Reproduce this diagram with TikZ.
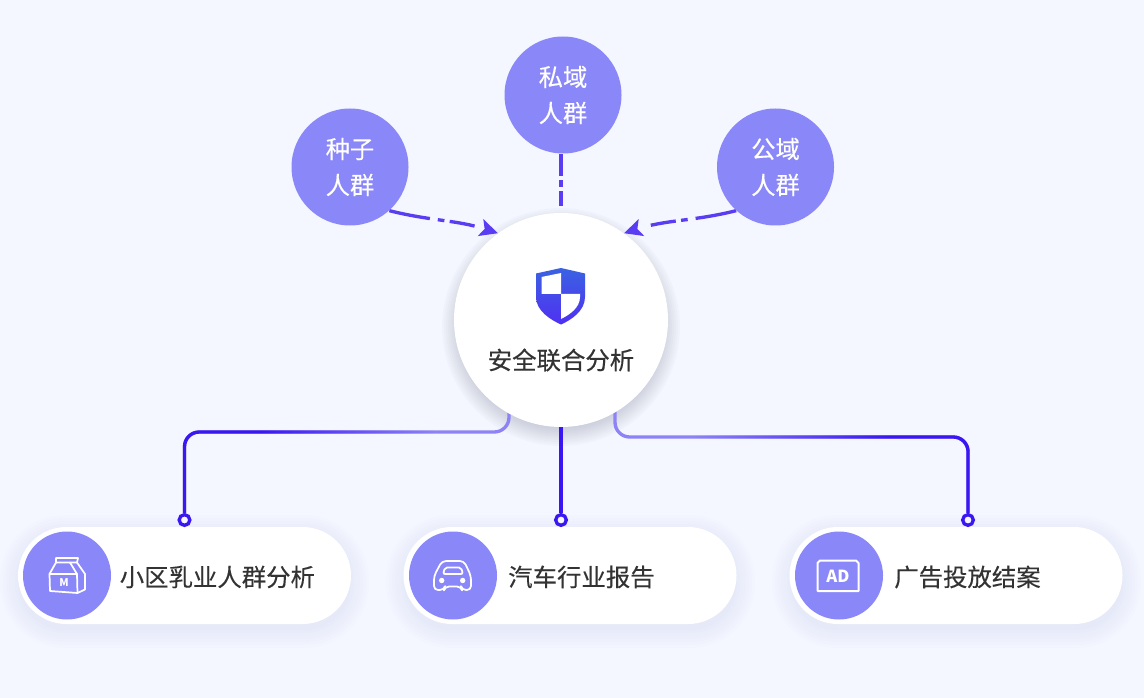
\documentclass[tikz,border=0pt]{standalone}
\usepackage{fontspec}
\setmainfont{Noto Sans CJK SC}
\usetikzlibrary{arrows.meta,backgrounds,fadings,shapes.misc}

\definecolor{pagebg}{HTML}{F4F7FF}
\definecolor{bubble}{HTML}{8A87F8}
\definecolor{linkdark}{HTML}{3A17F2}
\definecolor{linklight}{HTML}{8D82F6}
\definecolor{flowblue}{HTML}{5A3DF3}
\definecolor{textdark}{HTML}{333333}
\definecolor{shadowgray}{HTML}{5F6480}
\definecolor{shieldtop}{HTML}{3A62E2}
\definecolor{shieldlow}{HTML}{5030F2}

\tikzset{
    source/.style={circle, fill=bubble, text=white, minimum size=87.75pt, inner sep=0pt, align=center,
        font=\fontsize{18.2}{27}\selectfont\addfontfeature{FakeBold=0.25}},
    hub/.style={circle, fill=white, minimum size=160.5pt, inner sep=0pt},
    pill/.style={rounded rectangle, fill=white, minimum width=249.75pt, minimum height=72.75pt, inner sep=0pt},
    badge/.style={circle, fill=bubble, minimum size=66pt, inner sep=0pt},
    pin/.style={circle, draw=linkdark, line width=2.5pt, fill=pagebg, minimum size=8pt, inner sep=0pt},
    caption/.style={text=textdark, inner sep=0pt, font=\fontsize{18.3}{22}\selectfont\addfontfeature{FakeBold=0.25}},
    flow/.style={draw=flowblue, line width=2.5pt},
    flowarrow/.style={flow, dash pattern=on 31pt off 6pt on 5pt off 4pt on 19pt off 30pt,
        -{Stealth[length=13.5pt, width=13pt, inset=3pt]}},
    link/.style={draw=linklight, line width=2.5pt, rounded corners=11pt},
    linktop/.style={draw=linkdark, line width=2.5pt, rounded corners=11pt},
    glyph/.style={draw=white, line width=1.3pt, line join=round, line cap=round}
}

\begin{document}
\begin{tikzpicture}[x=0.75pt, y=-0.75pt]
    \useasboundingbox (0,0) rectangle (1144,698);

    % people
    \node[source] (seed) at (350,167) {种子\\人群};
    \node[source] (private) at (563,95) {私域\\人群};
    \node[source] (public) at (775.5,167) {公域\\人群};

    \node[hub] (safe) at (561,320) {};
    \node[caption, font=\fontsize{18.3}{22}\selectfont\addfontfeature{FakeBold=0.5}] (safetext) at (561,360) {安全联合分析};

    % reports
    \node[pill] (milk) at (184.5,575.5) {};
    \node[pill] (car) at (570,575.5) {};
    \node[pill] (ad) at (956,575.5) {};

    \node[badge] (milkbadge) at (67,575.5) {};
    \node[badge] (carbadge) at (453,575.5) {};
    \node[badge] (adbadge) at (839,575.5) {};

    \node[caption, anchor=west] (milktext) at (119.5,577) {小区乳业人群分析};
    \node[caption, anchor=west] (cartext) at (508,577) {汽车行业报告};
    \node[caption, anchor=west] (adtext) at (894,577) {广告投放结案};

    \node[pin] (pinmilk) at (184.5,520) {};
    \node[pin] (pincar) at (561,520) {};
    \node[pin] (pinad) at (968,520) {};

    \coordinate (kneemilk) at (509,432);
    \coordinate (kneead) at (615,437);

    \begin{pgfonlayer}{background}
        \fill[pagebg] (0,0) rectangle (1144,698);

        \foreach \s in {0,2,...,18}{
            \fill[shadowgray, opacity=0.026] (561,327) circle ({101+\s});
        }
        \foreach \px in {18,404,790}{
            \foreach \s in {0,3,...,18}{
                \fill[shadowgray, opacity=0.009, rounded corners={(46+\s)*0.75pt}]
                (\px-\s,533-\s) rectangle (\px+333+\s,630+\s);
            }
        }

        \draw[link] (pinmilk) |- (kneemilk) -- (kneemilk |- safe);
        \draw[linktop, path fading=east, fit fading=false, fading transform={shift={(347,470)}, xscale=2.6, yscale=5}]
        (pinmilk) |- (kneemilk) -- (kneemilk |- safe);

        \draw[link] (pinad) |- (kneead) -- (kneead |- safe);
        \draw[linktop, path fading=west, fit fading=false, fading transform={shift={(791,470)}, xscale=2.9, yscale=5}]
        (pinad) |- (kneead) -- (kneead |- safe);

        \draw[draw=linkdark, line width=2.5pt] (safe) -- (pincar);

        \draw[flowarrow] (seed.-48) to[out=-14, in=162] (safe.126);
        \draw[flowarrow] (public.228) to[out=194, in=18] (safe.54);
    \end{pgfonlayer}

    \draw[flow, dash pattern=on 17pt off 3pt on 5pt off 3pt on 11pt off 100pt] (private.south) ++(-2,0) -- ++(0,53);

    % shield
    \shade[top color=shieldtop, bottom color=shieldlow]
    (561,268) -- (585,273.5) -- (585,297) .. controls (585,311) and (571,320) .. (561,324.5)
    .. controls (551,320) and (536,311) .. (536,297) -- (536,273.5) -- cycle;
    \fill[white] (561,273) -- (561,294) -- (541.5,294) -- (541.5,277) -- cycle;
    \fill[white] (561,294) -- (580,294) -- (580,297) .. controls (580,308) and (569,315) .. (561,319) -- cycle;

    % milk box
    \begin{scope}[glyph]
        \draw (49.5,574) -- (56,562.5) -- (77,562.5) -- (85,574) -- (85,589.5) -- (77.5,593) -- (50,591) -- cycle;
        \draw (49.5,574) -- (77,574) -- (77.5,593);
        \draw (77,574) -- (70,562.5);
        \draw (56,562.5) -- (56,558) -- (78,558) -- (77,562.5);
    \end{scope}
    \node[text=white, inner sep=0pt, font=\fontsize{8}{9}\selectfont\bfseries] (milkmark) at (64,583) {M};

    % car
    \begin{scope}[glyph]
        \draw[rounded corners=3pt] (434,590) -- (434,576) -- (442,561) -- (464,561) -- (471,576) -- (471,590) -- (462,590) -- (461,586.5)
        -- (445,586.5) -- (444,590) -- cycle;
        \draw[rounded corners=1.5pt] (445,567.5) -- (461,567.5) -- (463,574) -- (443,574) -- cycle;
    \end{scope}
    \fill[white] (441.7,580.5) circle (2.7);
    \fill[white] (462.7,580.5) circle (2.7);

    % ad frame
    \draw[glyph, line width=1.5pt] (817.5,591) -- (817.5,563) -- (820,560.5) -- (856,560.5) -- (858.5,563) -- (858.5,591) -- cycle;
    \node[text=white, inner sep=0pt, font=\fontsize{12.5}{14}\selectfont\bfseries] (adword) at (838,576) {AD};
\end{tikzpicture}
\end{document}
